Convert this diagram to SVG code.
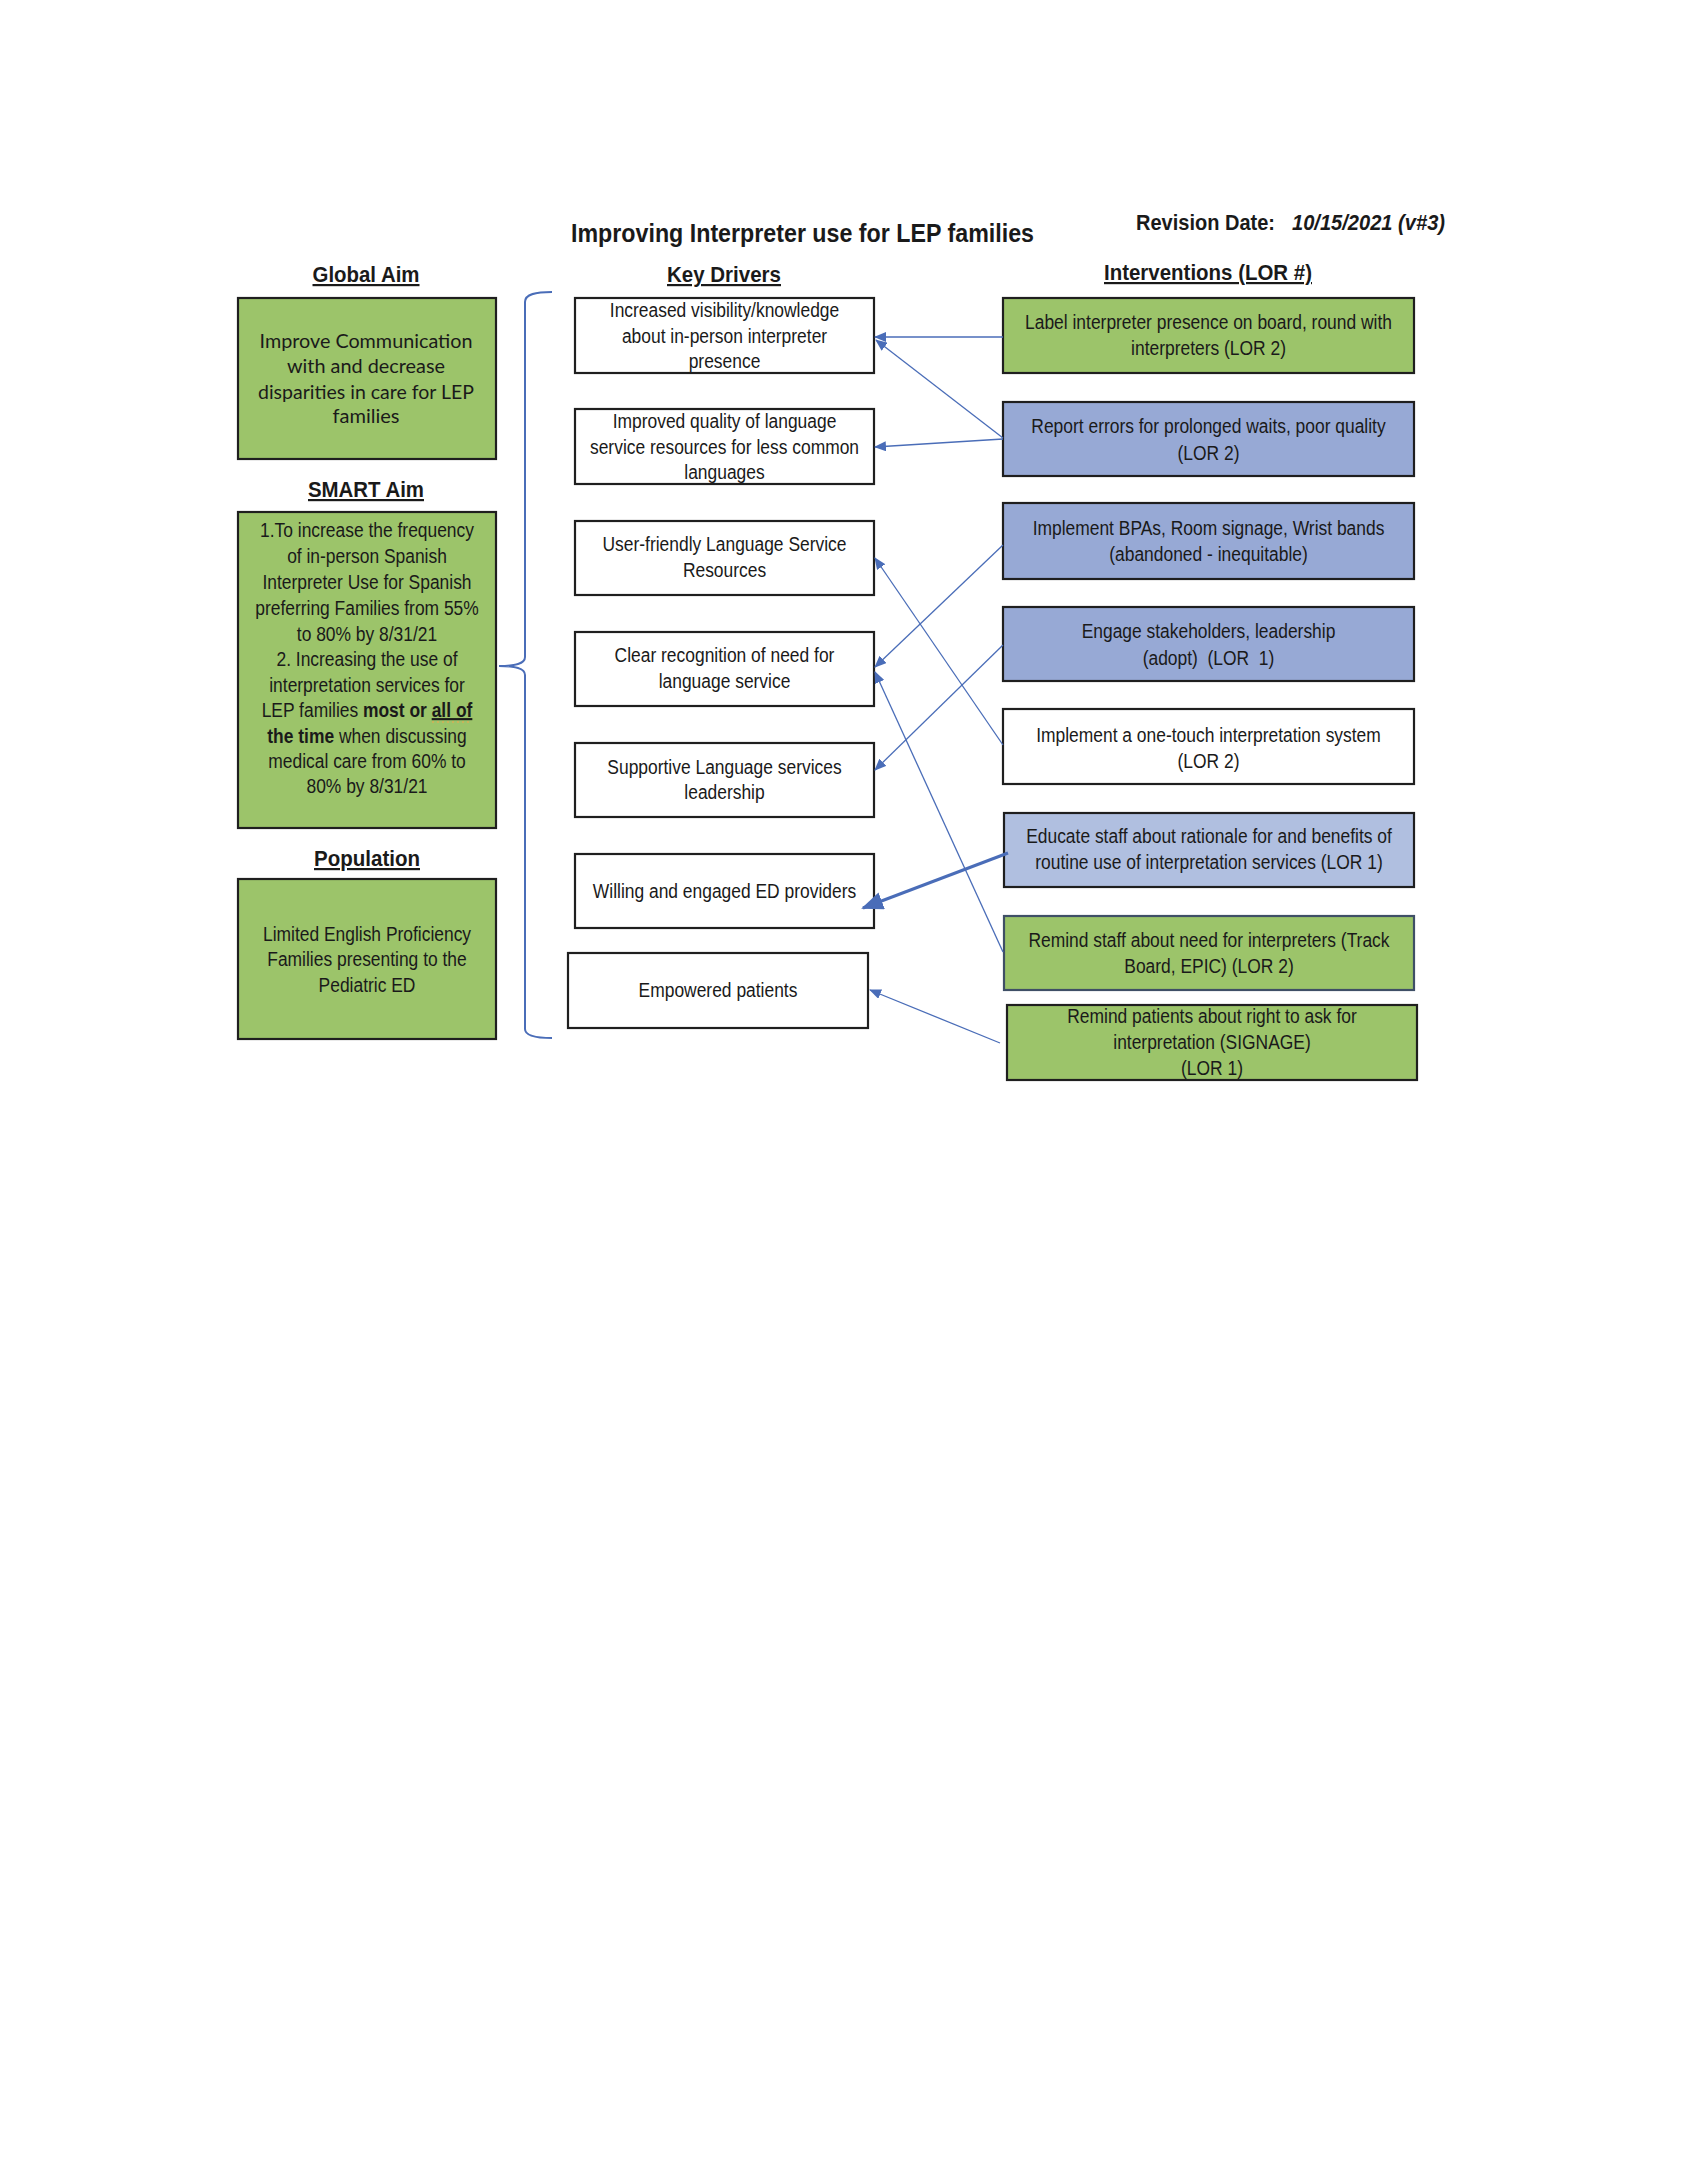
<svg xmlns="http://www.w3.org/2000/svg" width="1683" height="2178" viewBox="0 0 1683 2178">
<style>
  .bg{fill:#ffffff}
  .box{stroke:#1f1f1f;stroke-width:2.2}
  .green{fill:#9cc46a}
  .blue{fill:#97a9d5}
  .lblue{fill:#b0bfe0}
  .white{fill:#ffffff}
  .t{font-family:"Liberation Sans",Arial,sans-serif;font-size:21px;fill:#1a1a1a;text-anchor:middle}
  .cal{font-family:Lato,"Liberation Sans",sans-serif;font-size:19.5px;fill:#1a1a1a;text-anchor:middle}
  .h{font-family:"Liberation Sans",Arial,sans-serif;font-weight:bold;font-size:22px;fill:#1a1a1a;text-anchor:middle;text-decoration:underline}
  .title{font-family:"Liberation Sans",Arial,sans-serif;font-weight:bold;font-size:26px;fill:#1a1a1a}
  .rev{font-family:"Liberation Sans",Arial,sans-serif;font-weight:bold;font-size:22px;fill:#1a1a1a}
  .b{font-weight:bold}
  .conn{stroke:#4a6db8;stroke-width:1.3;fill:none}
  .thick{stroke:#4a6db8;stroke-width:3;fill:none}
</style>
<defs>
  <marker id="arr" markerUnits="userSpaceOnUse" markerWidth="12" markerHeight="10" refX="11" refY="5" orient="auto">
    <path d="M0,0 L12,5 L0,10 z" fill="#4a6db8"/>
  </marker>
  <marker id="arrBig" markerUnits="userSpaceOnUse" markerWidth="22" markerHeight="18" refX="20" refY="9" orient="auto">
    <path d="M0,0 L22,9 L0,18 z" fill="#4a6db8"/>
  </marker>
</defs>
<rect class="bg" x="0" y="0" width="1683" height="2178"/>

<g id="headers">
  <text class="title" x="571" y="242" textLength="463" lengthAdjust="spacingAndGlyphs">Improving Interpreter use for LEP families</text>
  <text class="rev" x="1136" y="230" textLength="139" lengthAdjust="spacingAndGlyphs">Revision Date:</text>
  <text class="rev" x="1292" y="230" font-style="italic" textLength="153" lengthAdjust="spacingAndGlyphs">10/15/2021 (v#3)</text>
  <text class="h" x="366" y="282" textLength="107" lengthAdjust="spacingAndGlyphs">Global Aim</text>
  <text class="h" x="724" y="282" textLength="114" lengthAdjust="spacingAndGlyphs">Key Drivers</text>
  <text class="h" x="1208" y="280" textLength="208" lengthAdjust="spacingAndGlyphs">Interventions (LOR #)</text>
  <text class="h" x="366" y="497" textLength="116" lengthAdjust="spacingAndGlyphs">SMART Aim</text>
  <text class="h" x="367" y="866" textLength="106" lengthAdjust="spacingAndGlyphs">Population</text>
</g>

<g id="global-aim">
  <rect class="box green" x="238" y="298" width="258" height="161"/>
  <text class="cal" x="366" y="348" textLength="213" lengthAdjust="spacingAndGlyphs">Improve Communication</text>
  <text class="cal" x="366" y="373" textLength="158" lengthAdjust="spacingAndGlyphs">with and decrease</text>
  <text class="cal" x="366" y="399" textLength="216" lengthAdjust="spacingAndGlyphs">disparities in care for LEP</text>
  <text class="cal" x="366" y="423" textLength="67" lengthAdjust="spacingAndGlyphs">families</text>
</g>

<g id="smart-aim">
  <rect class="box green" x="238" y="512" width="258" height="316"/>
  <g transform="translate(367,0) scale(0.83,1)">
    <text class="t" x="0" y="537">1.To increase the frequency</text>
    <text class="t" x="0" y="563">of in-person Spanish</text>
    <text class="t" x="0" y="589">Interpreter Use for Spanish</text>
    <text class="t" x="0" y="615">preferring Families from 55%</text>
    <text class="t" x="0" y="641">to 80% by 8/31/21</text>
    <text class="t" x="0" y="666">2. Increasing the use of</text>
    <text class="t" x="0" y="692">interpretation services for</text>
    <text class="t" x="0" y="717">LEP families <tspan class="b">most or </tspan><tspan class="b" text-decoration="underline">all of</tspan></text>
    <text class="t" x="0" y="743"><tspan class="b">the time</tspan> when discussing</text>
    <text class="t" x="0" y="768">medical care from 60% to</text>
    <text class="t" x="0" y="793">80% by 8/31/21</text>
  </g>
  <line x1="432" y1="722" x2="469" y2="722" stroke="#c9b45a" stroke-width="2" stroke-dasharray="2,3"/>
</g>

<g id="population">
  <rect class="box green" x="238" y="879" width="258" height="160"/>
  <g transform="translate(367,0) scale(0.83,1)">
    <text class="t" x="0" y="941">Limited English Proficiency</text>
    <text class="t" x="0" y="966">Families presenting to the</text>
    <text class="t" x="0" y="992">Pediatric ED</text>
  </g>
</g>

<g id="brace">
  <path d="M552,292 C536,292 525,294 525,302 L525,657 C525,664 515,666 499,666 C515,666 525,668 525,675 L525,1029 C525,1036 536,1038 552,1038" fill="none" stroke="#4a6db8" stroke-width="2"/>
</g>

<g id="kd1">
  <rect class="box white" x="575" y="298" width="299" height="75"/>
  <g transform="translate(724.5,0) scale(0.83,1)">
    <text class="t" x="0" y="317">Increased visibility/knowledge</text>
    <text class="t" x="0" y="343">about in-person interpreter</text>
    <text class="t" x="0" y="368">presence</text>
  </g>
</g>
<g id="kd2">
  <rect class="box white" x="575" y="409" width="299" height="75"/>
  <g transform="translate(724.5,0) scale(0.83,1)">
    <text class="t" x="0" y="428">Improved quality of language</text>
    <text class="t" x="0" y="454">service resources for less common</text>
    <text class="t" x="0" y="479">languages</text>
  </g>
</g>
<g id="kd3">
  <rect class="box white" x="575" y="521" width="299" height="74"/>
  <g transform="translate(724.5,0) scale(0.83,1)">
    <text class="t" x="0" y="551">User-friendly Language Service</text>
    <text class="t" x="0" y="577">Resources</text>
  </g>
</g>
<g id="kd4">
  <rect class="box white" x="575" y="632" width="299" height="74"/>
  <g transform="translate(724.5,0) scale(0.83,1)">
    <text class="t" x="0" y="662">Clear recognition of need for</text>
    <text class="t" x="0" y="688">language service</text>
  </g>
</g>
<g id="kd5">
  <rect class="box white" x="575" y="743" width="299" height="74"/>
  <g transform="translate(724.5,0) scale(0.83,1)">
    <text class="t" x="0" y="774">Supportive Language services</text>
    <text class="t" x="0" y="799">leadership</text>
  </g>
</g>
<g id="kd6">
  <rect class="box white" x="575" y="854" width="299" height="74"/>
  <g transform="translate(724.5,0) scale(0.83,1)">
    <text class="t" x="0" y="898">Willing and engaged ED providers</text>
  </g>
</g>
<g id="kd7">
  <rect class="box white" x="568" y="953" width="300" height="75"/>
  <g transform="translate(718,0) scale(0.83,1)">
    <text class="t" x="0" y="997">Empowered patients</text>
  </g>
</g>

<g id="int1">
  <rect class="box green" x="1003" y="298" width="411" height="75"/>
  <g transform="translate(1208.5,0) scale(0.83,1)">
    <text class="t" x="0" y="329">Label interpreter presence on board, round with</text>
    <text class="t" x="0" y="355">interpreters (LOR 2)</text>
  </g>
</g>
<g id="int2">
  <rect class="box blue" x="1003" y="402" width="411" height="74"/>
  <g transform="translate(1208.5,0) scale(0.83,1)">
    <text class="t" x="0" y="433">Report errors for prolonged waits, poor quality</text>
    <text class="t" x="0" y="460">(LOR 2)</text>
  </g>
</g>
<g id="int3">
  <rect class="box blue" x="1003" y="503" width="411" height="76"/>
  <g transform="translate(1208.5,0) scale(0.83,1)">
    <text class="t" x="0" y="535">Implement BPAs, Room signage, Wrist bands</text>
    <text class="t" x="0" y="561">(abandoned - inequitable)</text>
  </g>
</g>
<g id="int4">
  <rect class="box blue" x="1003" y="607" width="411" height="74"/>
  <g transform="translate(1208.5,0) scale(0.83,1)">
    <text class="t" x="0" y="638" xml:space="preserve">Engage stakeholders, leadership</text>
    <text class="t" x="0" y="665" xml:space="preserve">(adopt)  (LOR  1)</text>
  </g>
</g>
<g id="int5">
  <rect class="box white" x="1003" y="709" width="411" height="75"/>
  <g transform="translate(1208.5,0) scale(0.83,1)">
    <text class="t" x="0" y="742">Implement a one-touch interpretation system</text>
    <text class="t" x="0" y="768">(LOR 2)</text>
  </g>
</g>
<g id="int6">
  <rect class="box lblue" x="1004" y="813" width="410" height="74"/>
  <g transform="translate(1209,0) scale(0.83,1)">
    <text class="t" x="0" y="843">Educate staff about rationale for and benefits of</text>
    <text class="t" x="0" y="869">routine use of interpretation services (LOR 1)</text>
  </g>
</g>
<g id="int7">
  <rect class="green" x="1004" y="916" width="410" height="74" stroke="#3f4f66" stroke-width="2.2"/>
  <g transform="translate(1209,0) scale(0.83,1)">
    <text class="t" x="0" y="947">Remind staff about need for interpreters (Track</text>
    <text class="t" x="0" y="973">Board, EPIC) (LOR 2)</text>
  </g>
</g>
<g id="int8">
  <rect class="box green" x="1007" y="1005" width="410" height="75"/>
  <g transform="translate(1212,0) scale(0.83,1)">
    <text class="t" x="0" y="1023">Remind patients about right to ask for</text>
    <text class="t" x="0" y="1049">interpretation (SIGNAGE)</text>
    <text class="t" x="0" y="1075">(LOR 1)</text>
  </g>
</g>

<g id="connectors">
  <line class="conn" x1="1003" y1="337" x2="875" y2="337" marker-end="url(#arr)"/>
  <line class="conn" x1="1003" y1="438" x2="876" y2="340" marker-end="url(#arr)"/>
  <line class="conn" x1="1003" y1="439" x2="875" y2="447" marker-end="url(#arr)"/>
  <line class="conn" x1="1003" y1="545" x2="875" y2="667" marker-end="url(#arr)"/>
  <line class="conn" x1="1003" y1="645" x2="875" y2="770" marker-end="url(#arr)"/>
  <line class="conn" x1="1003" y1="745" x2="875" y2="558" marker-end="url(#arr)"/>
  <line class="conn" x1="1003" y1="952" x2="875" y2="672" marker-end="url(#arr)"/>
  <line class="thick" x1="1008" y1="853" x2="863" y2="908" marker-end="url(#arrBig)"/>
  <line class="conn" x1="1000" y1="1043" x2="870" y2="990" marker-end="url(#arr)"/>
</g>
</svg>
